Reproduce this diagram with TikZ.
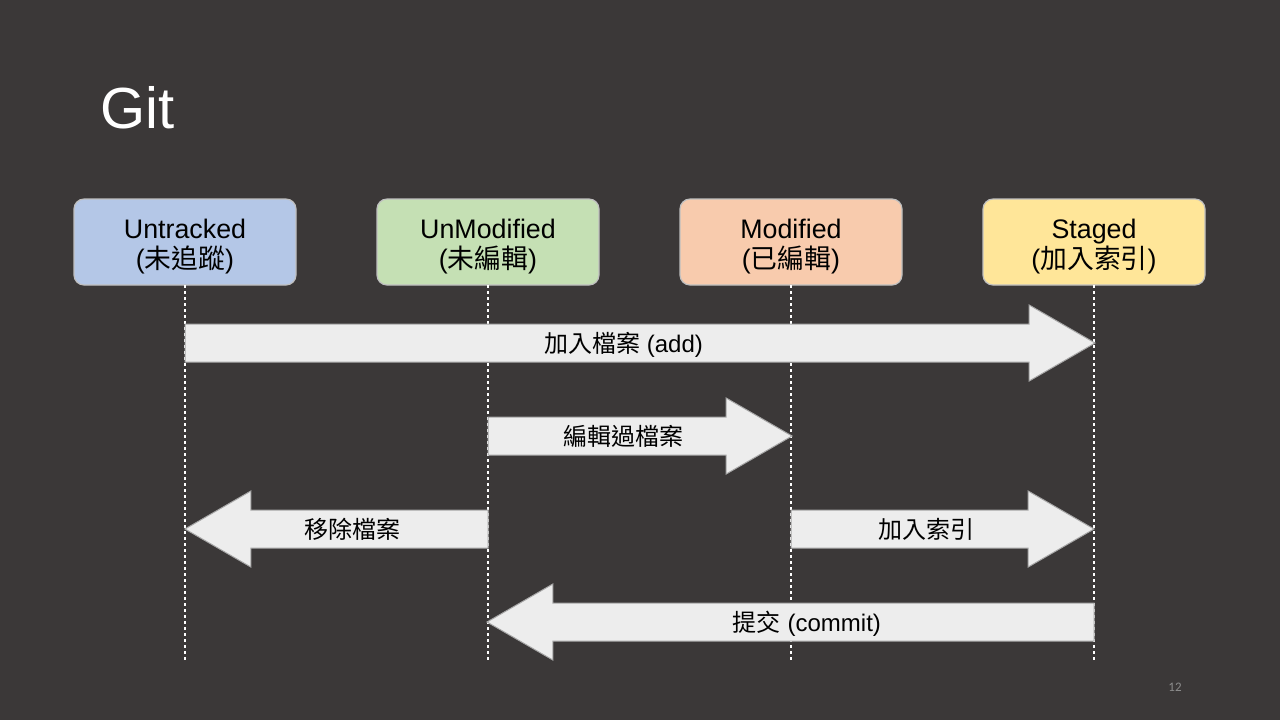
\documentclass[tikz,border=0pt]{standalone}
\usepackage{fontspec}
\setmainfont{Liberation Sans}
\newfontfamily\cjk{Noto Sans CJK TC}
\newfontfamily\pagefont{Carlito}
\usetikzlibrary{positioning,shapes.arrows}
\definecolor{slidebg}{HTML}{3B3838}
\definecolor{boxline}{HTML}{BFBFBF}
\definecolor{arrowfill}{HTML}{EDEDED}
\definecolor{arrowline}{HTML}{A6A6A6}
\definecolor{untrackedfill}{HTML}{B4C7E7}
\definecolor{unmodifiedfill}{HTML}{C5E0B4}
\definecolor{modifiedfill}{HTML}{F8CBAD}
\definecolor{stagedfill}{HTML}{FFE699}
\definecolor{pagegray}{HTML}{8C8C8C}
\newcommand{\boxpad}{\rule{0pt}{14pt}}
\begin{document}
\begin{tikzpicture}[
x=0.5pt,y=-0.5pt,
state/.style={rectangle,rounded corners=5pt,draw=boxline,line width=0.6pt,minimum width=111pt,minimum height=43pt,align=center,inner sep=0pt,outer sep=0pt,font=\fontsize{13.4}{15}\selectfont},
lifeline/.style={draw=white,line width=0.8pt,dash pattern=on 1.5pt off 1.5pt},
bigarrow/.style={single arrow,draw=arrowline,fill=arrowfill,line width=0.5pt,single arrow tip angle=60,single arrow head extend=9.5pt,text height=10.6pt,text depth=1.4pt,inner ysep=3.25pt,inner xsep=0pt,outer sep=0pt,font=\fontsize{12}{14}\selectfont},
back/.style={shape border rotate=180}
]

\fill[slidebg] (0,0) rectangle (1280,720);
\node[text=white,anchor=base west,inner sep=0pt,font=\fontsize{29}{32}\selectfont] (title) at (100,128) {Git};

\node[state,fill=untrackedfill] (untracked) at (185,242) {\boxpad Untracked\\({\cjk 未追蹤})};
\node[state,fill=unmodifiedfill,right=40.5pt of untracked] (unmodified) {\boxpad UnModified\\({\cjk 未編輯})};
\node[state,fill=modifiedfill,right=40.5pt of unmodified] (modified) {\boxpad Modified\\({\cjk 已編輯})};
\node[state,fill=stagedfill,right=40.5pt of modified] (staged) {\boxpad Staged\\({\cjk 加入索引})};

\draw[lifeline] (untracked.south) -- (untracked.south |- 0,662);
\draw[lifeline] (unmodified.south) -- (unmodified.south |- 0,662);
\draw[lifeline] (modified.south) -- (modified.south |- 0,662);
\draw[lifeline] (staged.south) -- (staged.south |- 0,662);

\node[bigarrow,minimum height=455pt,anchor=tail] (add) at (untracked.south |- 0,343) {{\cjk 加入檔案} (add)};
\node[bigarrow,minimum height=152pt,anchor=tail] (edit) at (unmodified.south |- 0,436) {\cjk 編輯過檔案};
\node[bigarrow,back,minimum height=151.5pt,anchor=tail] (remove) at (unmodified.south |- 0,529) {\cjk 移除檔案};
\node[bigarrow,minimum height=151.5pt,anchor=tail] (stage) at (modified.south |- 0,529) {\cjk 加入索引};
\node[bigarrow,back,minimum height=303.5pt,anchor=tail] (commit) at (staged.south |- 0,622) {{\cjk 提交} (commit)};

\node[text=pagegray,font=\pagefont\fontsize{6.5}{8}\selectfont] (pagenum) at (1175,687) {12};
\end{tikzpicture}
\end{document}
